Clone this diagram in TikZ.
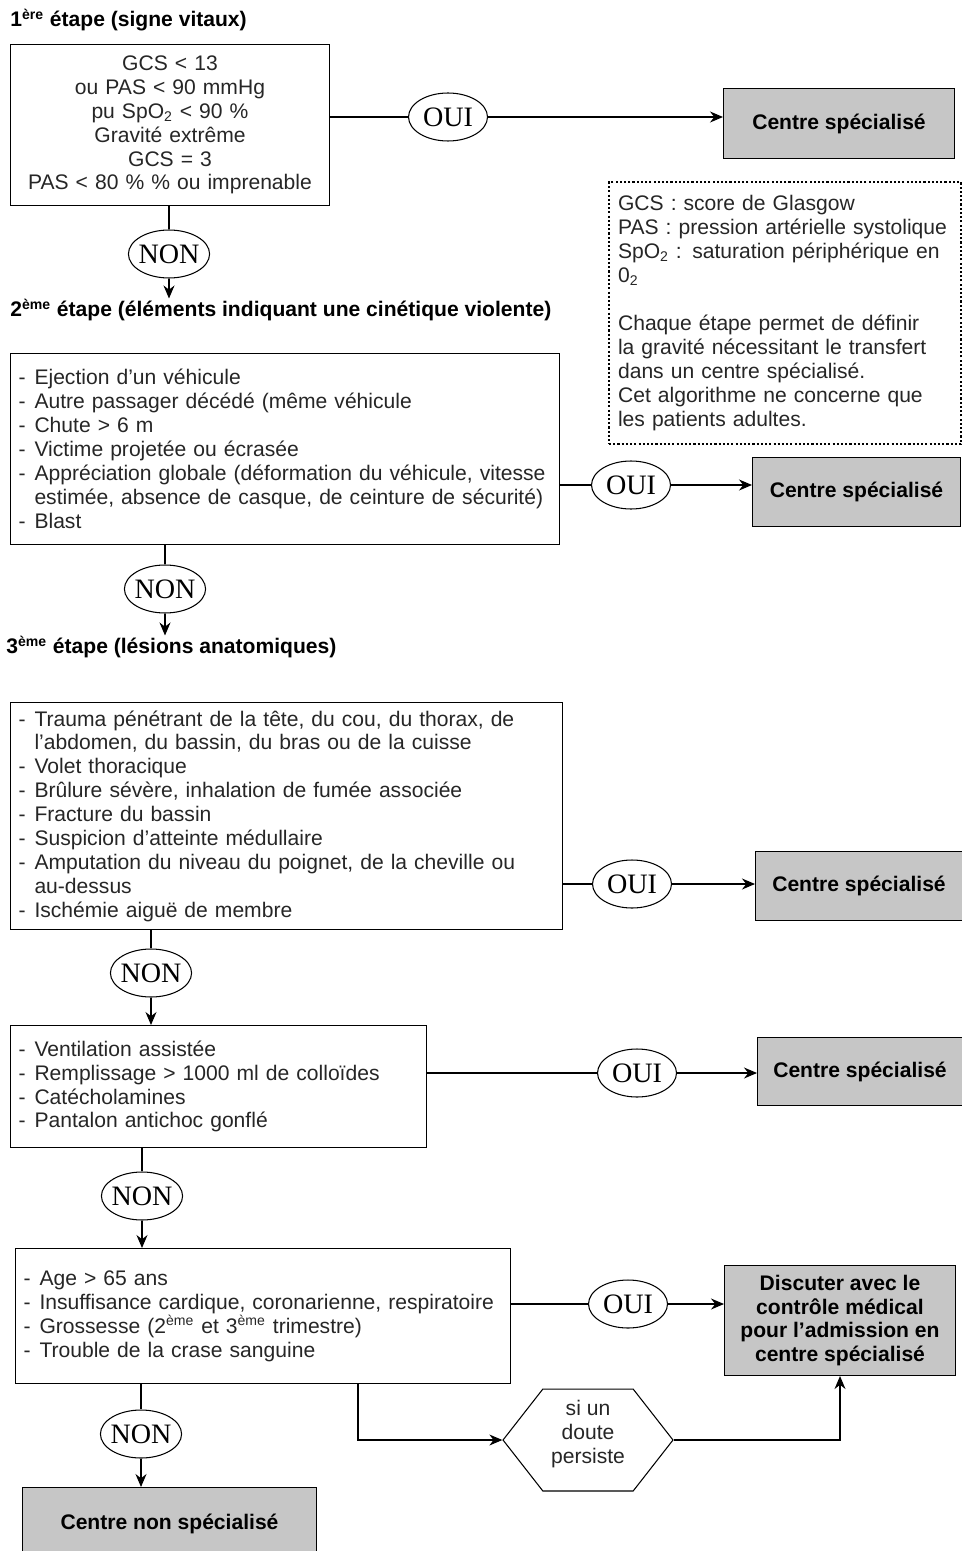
\documentclass[tikz,border=0pt]{standalone}
\usepackage{fontspec}
\setmainfont{Liberation Sans}
\newfontfamily\repfont{Liberation Serif}
\usetikzlibrary{shapes.geometric, shapes.symbols, positioning, arrows.meta}
\definecolor{GrisCentre}{HTML}{C6C6C6}
\definecolor{GrisTexte}{HTML}{262626}
\newcommand{\tiret}{\makebox[0.32cm][l]{-}}
\newcommand{\suite}{\hspace*{0.32cm}}

\tikzset{
  critere/.style={draw, line width=0.6pt, anchor=north west, align=left, inner xsep=0.16cm, inner ysep=0pt, text=GrisTexte, font=\fontsize{12}{13.6}\selectfont},
  centre/.style={draw, line width=0.6pt, fill=GrisCentre, anchor=north west, align=center, font=\bfseries\fontsize{12}{13.6}\selectfont},
  reponse/.style={draw, ellipse, line width=0.6pt, fill=white, inner xsep=-1pt, inner ysep=0pt, minimum width=1.58cm, minimum height=0.96cm, font=\repfont\fontsize{16}{16}\selectfont},
  etape/.style={anchor=west, inner sep=0pt, font=\bfseries\fontsize{12}{14}\selectfont},
  doutebox/.style={draw, signal, signal to=east and west, signal pointer angle=104, line width=0.6pt, minimum width=3.4cm, minimum height=2.04cm, inner sep=0pt, align=center, text=GrisTexte, font=\fontsize{12}{13.6}\selectfont},
  fleche/.style={-{Stealth[length=2.6mm,width=2.2mm]}, line width=0.6pt},
  lien/.style={line width=0.6pt}
}

\begin{document}
\begin{tikzpicture}[x=0.02cm, y=-0.02cm]
    \useasboundingbox (0,0) rectangle (962,1551);

    % Titres des etapes
    \node[etape] (etape1) at (10,20) {1\textsuperscript{ère} étape (signe vitaux)};
    \node[etape] (etape2) at (10,310) {2\textsuperscript{ème} étape (éléments indiquant une cinétique violente)};
    \node[etape] (etape3) at (6,647) {3\textsuperscript{ème} étape (lésions anatomiques)};

    % Criteres
    \node[critere, align=center, text width=6.06cm, minimum height=3.22cm] (vital) at (10,44)
        {GCS < 13\\ou PAS < 90 mmHg\\pu SpO\textsubscript{2} < 90 \%\\Gravité extrême\\GCS = 3\\PAS < 80 \% \% ou imprenable};
    \node[critere, text width=10.66cm, minimum height=3.82cm] (cine) at (10,353)
        {\tiret Ejection d’un véhicule\\
         \tiret Autre passager décédé (même véhicule\\
         \tiret Chute > 6 m\\
         \tiret Victime projetée ou écrasée\\
         \tiret Appréciation globale (déformation du véhicule, vitesse\\
         \suite estimée, absence de casque, de ceinture de sécurité)\\
         \tiret Blast};
    \node[critere, text width=10.72cm, minimum height=4.54cm] (lesion) at (10,702)
        {\tiret Trauma pénétrant de la tête, du cou, du thorax, de\\
         \suite l’abdomen, du bassin, du bras ou de la cuisse\\
         \tiret Volet thoracique\\
         \tiret Brûlure sévère, inhalation de fumée associée\\
         \tiret Fracture du bassin\\
         \tiret Suspicion d’atteinte médullaire\\
         \tiret Amputation du niveau du poignet, de la cheville ou\\
         \suite au-dessus\\
         \tiret Ischémie aiguë de membre};
    \node[critere, text width=8.0cm, minimum height=2.44cm] (therap) at (10,1025)
        {\tiret Ventilation assistée\\
         \tiret Remplissage > 1000 ml de colloïdes\\
         \tiret Catécholamines\\
         \tiret Pantalon antichoc gonflé};
    \node[critere, text width=9.58cm, minimum height=2.7cm] (terrain) at (15,1248)
        {\tiret Age > 65 ans\\
         \tiret Insuffisance cardique, coronarienne, respiratoire\\
         \tiret Grossesse (2\textsuperscript{ème} et 3\textsuperscript{ème} trimestre)\\
         \tiret Trouble de la crase sanguine};

    % Legende
    \node[critere, line width=1.2pt, dash pattern=on 1.2pt off 1.2pt, inner xsep=0.18cm, text width=6.68cm, minimum height=5.24cm] (legende) at (608,181)
        {GCS : score de Glasgow\\
         PAS : pression artérielle systolique\\
         SpO\textsubscript{2} : saturation périphérique en\\
         0\textsubscript{2}\\[13.6pt]
         Chaque étape permet de définir\\
         la gravité nécessitant le transfert\\
         dans un centre spécialisé.\\
         Cet algorithme ne concerne que\\
         les patients adultes.};

    % Orientations
    \node[centre, minimum width=4.62cm, minimum height=1.4cm] (cs1) at (723,88) {Centre spécialisé};
    \node[centre, minimum width=4.16cm, minimum height=1.38cm] (cs2) at (752,457) {Centre spécialisé};
    \node[centre, minimum width=4.14cm, minimum height=1.38cm] (cs3) at (755,851) {Centre spécialisé};
    \node[centre, minimum width=4.1cm, minimum height=1.36cm] (cs4) at (757,1037) {Centre spécialisé};
    \node[centre, minimum width=4.62cm, minimum height=2.2cm] (discuter) at (724,1265)
        {Discuter avec le\\contrôle médical\\pour l’admission en\\centre spécialisé};
    \node[centre, minimum width=5.88cm, minimum height=1.44cm] (cns) at (22,1487) {Centre non spécialisé};
    \node[doutebox] (doute) at (588,1440) {si un\\doute\\persiste\rule[-0.32cm]{0pt}{0pt}};

    % Reponses
    \foreach \n/\x/\y in {1/448/117, 2/631/485, 3/632/884, 4/637/1073, 5/628/1304}
        \node[reponse] (oui\n) at (\x,\y) {OUI};
    \foreach \n/\x/\y in {1/169/254, 2/165/589, 3/151/973, 4/142/1196, 5/141/1434}
        \node[reponse] (non\n) at (\x,\y) {NON};

    % Liens OUI
    \foreach \n/\boite/\cible in {1/vital/cs1, 2/cine/cs2, 3/lesion/cs3, 4/therap/cs4, 5/terrain/discuter} {
        \draw[lien] (\boite.east |- oui\n) -- (oui\n.west);
        \draw[fleche] (oui\n.east) -- (\cible.west |- oui\n);
    }

    % Liens NON
    \foreach \n/\boite/\suivant in {1/vital/etape2, 2/cine/etape3, 3/lesion/therap, 4/therap/terrain, 5/terrain/cns} {
        \draw[lien] (\boite.south -| non\n) -- (non\n.north);
        \draw[fleche] (non\n.south) -- (\suivant.north -| non\n);
    }

    % Doute
    \coordinate (coude) at (358,1383);
    \draw[fleche] (terrain.south -| coude) |- (doute.west);
    \draw[fleche] (doute.east) -| (discuter.south);
\end{tikzpicture}
\end{document}
